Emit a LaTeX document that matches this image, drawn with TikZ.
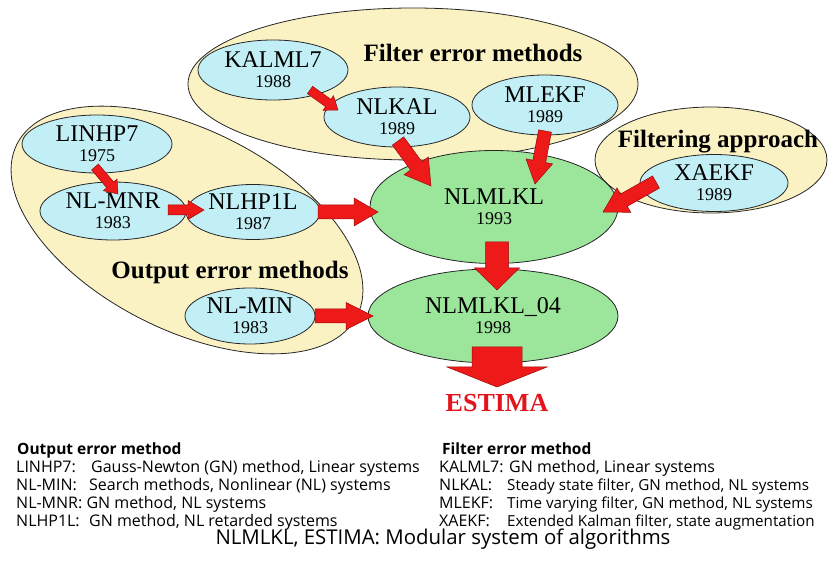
\documentclass[tikz,border=0pt]{standalone}
\usepackage{fontspec}
\setmainfont{Liberation Serif}
\newfontfamily\sansf{Open Sans}
\usetikzlibrary{shapes.geometric,calc}
\definecolor{grpfill}{HTML}{FBF2C4}
\definecolor{methfill}{HTML}{C2EFF5}
\definecolor{corefill}{HTML}{9CE69C}
\definecolor{arrred}{HTML}{EE1A1A}
\definecolor{arrdark}{HTML}{9A0A0A}
\definecolor{estred}{HTML}{E3141C}
\newcommand\bigf{\fontsize{24}{20}\selectfont}
\newcommand\yearf{\fontsize{18}{20}\selectfont}
\newcommand\blockarr[5]{%
  \coordinate (bt) at #1;
  \coordinate (bp) at #2;
  \coordinate (bc) at ($(bp)!#5!(bt)$);
  \filldraw[barrow] ($(bt)!#3!90:(bp)$) -- ($(bc)!#3!-90:(bt)$) -- ($(bc)!#4!-90:(bt)$) -- (bp)
     -- ($(bc)!#4!90:(bt)$) -- ($(bc)!#3!90:(bt)$) -- ($(bt)!#3!-90:(bp)$) -- cycle;
}
\tikzset{
  grpbox/.style={ellipse, draw=black!85, line width=0.8pt, fill=grpfill, inner sep=0pt},
  meth/.style={ellipse, draw=black!85, line width=0.8pt, fill=methfill, inner sep=0pt, align=center, font=\bigf},
  core/.style={ellipse, draw=black!85, line width=0.8pt, fill=corefill, inner sep=0pt, align=center, font=\bigf},
  grptitle/.style={inner sep=0pt, font=\fontsize{25}{25}\selectfont\bfseries},
  barrow/.style={fill=arrred, draw=arrdark, line width=0.5pt, line join=miter},
  lab/.style={anchor=base west, inner sep=0pt, font=\sansf\fontsize{16}{18}\selectfont},
  labsm/.style={anchor=base west, inner sep=0pt, font=\sansf\fontsize{15.2}{18}\selectfont},
  labhead/.style={anchor=base west, inner sep=0pt, font=\sansf\fontsize{15.5}{18}\selectfont\bfseries},
}
\begin{document}
\begin{tikzpicture}[x=1pt,y=1pt]
\useasboundingbox (0,0) rectangle (828,-577);
\clip (0,0) rectangle (828,-577);
\fill[white] (0,0) rectangle (828,-577);
% group ellipses
\node[grpbox, minimum width=450, minimum height=152] (filtgrp) at (413,-84) {};
\node[grpbox, minimum width=232, minimum height=106] (appgrp) at (711,-160) {};
\node[grpbox, minimum width=381, minimum height=200, rotate=-26.8] (outgrp) at (187,-230) {};
\node[grptitle] (filttitle) at (473,-53) {Filter error methods};
\node[grptitle] (apptitle) at (718,-142) {Filtering approach};
\node[grptitle] (outtitle) at (230,-272) {Output error methods};
% method ellipses
\node[meth, minimum width=150, minimum height=60] (KALML7) at (273,-70) {KALML7\\\yearf 1988};
\node[meth, minimum width=146, minimum height=60] (NLKAL) at (397,-117) {NLKAL\\\yearf 1989};
\node[meth, minimum width=146, minimum height=60] (MLEKF) at (545,-105) {MLEKF\\\yearf 1989};
\node[meth, minimum width=148, minimum height=57] (XAEKF) at (714,-183) {XAEKF\\\yearf 1989};
\node[meth, minimum width=150, minimum height=58] (LINHP7) at (97,-144) {LINHP7\\\yearf 1975};
\node[meth, minimum width=146, minimum height=58] (NLMNR) at (113,-211) {NL-MNR\\\yearf 1983};
\node[meth, minimum width=134, minimum height=55] (NLHP1L) at (253,-212) {NLHP1L\\\yearf 1987};
\node[meth, minimum width=130, minimum height=56] (NLMIN) at (250,-316) {NL-MIN\\\yearf 1983};
% core ellipses
\node[core, minimum width=248, minimum height=113] (NLMLKL) at (494,-207) {NLMLKL\\\yearf 1993};
\node[core, minimum width=250, minimum height=94] (NLMLKL04) at (493,-316) {NLMLKL\_04\\\yearf 1998};
\node[inner sep=0pt, text=estred, font=\fontsize{26}{26}\selectfont\bfseries] (ESTIMA) at (497,-403) {ESTIMA};
% arrows
\blockarr{($(KALML7)+(37,-20)$)}{($(NLKAL)+(-59,7)$)}{4.5pt}{9pt}{12pt}
\blockarr{($(LINHP7)+(-2,-23)$)}{($(NLMNR)+(5,17)$)}{4.5pt}{9pt}{12pt}
\blockarr{($(NLMNR)+(55,1)$)}{($(NLHP1L)+(-49,2)$)}{5pt}{9.5pt}{16pt}
\blockarr{($(NLHP1L)+(65,0)$)}{($(NLMLKL)+(-116,-5)$)}{7pt}{14pt}{24pt}
\blockarr{($(NLMIN)+(65,0)$)}{($(NLMLKL04)+(-120,0)$)}{7pt}{13.5pt}{27pt}
\blockarr{($(NLKAL)+(1,-24)$)}{($(NLMLKL)+(-63,21)$)}{7pt}{15pt}{25pt}
\blockarr{($(MLEKF)+(0,-26)$)}{($(NLMLKL)+(41,23)$)}{6.5pt}{13.5pt}{23pt}
\blockarr{($(XAEKF)+(-58,1)$)}{($(NLMLKL)+(109,-5)$)}{7pt}{14pt}{24pt}
\blockarr{($(NLMLKL)+(3,-35)$)}{($(NLMLKL04)+(4,26)$)}{11.5pt}{22.5pt}{22pt}
\blockarr{($(NLMLKL04)+(4,-31)$)}{($(ESTIMA)+(0,16)$)}{25pt}{50pt}{20pt}
% legend
\node[labhead] (lhead) at (17,-454) {Output error method};
\node[lab] (l1a) at (16,-472) {LINHP7:};
\node[lab] (l1b) at (91,-472) {Gauss-Newton (GN) method, Linear systems};
\node[lab] (l2a) at (16,-490) {NL-MIN:};
\node[lab] (l2b) at (89,-490) {Search methods, Nonlinear (NL) systems};
\node[lab] (l3) at (16,-508) {NL-MNR: GN method, NL systems};
\node[lab] (l4a) at (16,-526) {NLHP1L:};
\node[lab] (l4b) at (89,-526) {GN method, NL retarded systems};
\node[labhead] (rhead) at (442,-454) {Filter error method};
\node[lab] (r1) at (439,-472) {KALML7: GN method, Linear systems};
\node[lab] (r2a) at (439,-490) {NLKAL:};
\node[labsm] (r2b) at (507,-490) {Steady state filter, GN method, NL systems};
\node[lab] (r3a) at (439,-508) {MLEKF:};
\node[labsm] (r3b) at (507,-508) {Time varying filter, GN method, NL systems};
\node[lab] (r4a) at (439,-526) {XAEKF:};
\node[labsm] (r4b) at (507,-526) {Extended Kalman filter, state augmentation};
\node[inner sep=0pt, anchor=base, font=\sansf\fontsize{20.4}{22}\selectfont] (summary) at (443,-544) {NLMLKL, ESTIMA: Modular system of algorithms};
\end{tikzpicture}
\end{document}
